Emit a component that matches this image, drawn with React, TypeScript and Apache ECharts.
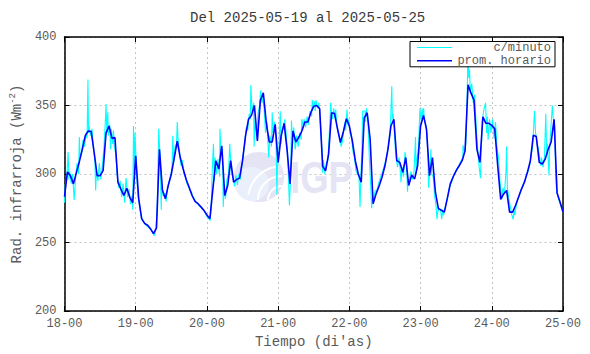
import React, { useEffect, useRef } from 'react';
import * as echarts from 'echarts';

const FONT = '"Liberation Mono", "DejaVu Sans Mono", monospace';
const TEXT_COLOR = '#5a5a5a';

const titleText = 'Del 2025-05-19 al 2025-05-25';
const xTickLabels = ['18-00', '19-00', '20-00', '21-00', '22-00', '23-00', '24-00', '25-00'];
const seriesNames = ['c/minuto', 'prom. horario'];

// Hourly mean, index = hours since 18-00
const hourlyValues = [
  283.5, 301.5, 298.8, 292.8, 301, 309, 318, 328, 331.4, 331, 315.7, 298.8,
  298.8, 302.4, 330, 335, 326, 326.6, 294, 289, 284.3, 289.6, 283, 279,
  313.3, 282, 267.4, 264, 262.6, 260, 256.5, 260.6, 318, 288.4, 282, 292,
  300, 312, 324, 312, 303.6, 296, 290.3, 284.3, 280, 278.3, 276, 273.4,
  270, 267.4, 289, 309.7, 303.6, 320.5, 284.3, 291.6, 309.7, 294, 296, 297,
  309.7, 327.8, 339.9, 342.8, 350, 324.2, 353.6, 359.2, 337.4, 323.4, 323.4, 336.2,
  308.5, 327.8, 337, 318, 292.8, 331.4, 323.4, 327, 331.4, 338, 338, 344.7,
  349.5, 350, 347.6, 305.6, 302.4, 314.5, 344.7, 344.2, 333, 323, 331, 340.3,
  335, 324.2, 309.7, 300, 294, 341, 344.7, 325.4, 278.3, 285.5, 291, 297.6,
  306, 318, 335, 340, 309.7, 308.5, 301.2, 312, 291.6, 299.3, 296.4, 306,
  335, 342.8, 332.6, 298.8, 312, 286.7, 274.7, 273.5, 272.2, 282, 292.8, 298,
  302.4, 306, 309.7, 316.9, 365.2, 359, 353.9, 318, 308.5, 341.8, 337, 337,
  335.5, 333, 306, 281.4, 285.5, 288, 272.2, 272.2, 277, 283.1, 289, 294,
  301.2, 309.7, 328.3, 327.3, 308.5, 307.3, 310.9, 318, 323.4, 339.9, 286.2, 279.5,
  272.2,
];

// Minute samples (hours since 18-00, value)
const minuteSamples: [number, number][] = [
  [0, 279], [0.25, 292], [0.75, 296], [1.2, 316], [1.5, 296], [1.75, 302], [2.25, 293], [2.75, 300],
  [3.25, 281], [3.75, 298], [4.25, 308], [4.75, 300], [5, 327], [5.25, 312], [5.75, 316], [6.25, 325],
  [6.75, 320], [7.25, 330], [7.6, 326], [7.9, 369], [8.1, 330], [8.25, 335], [8.75, 328], [9.25, 333],
  [9.75, 318], [10.25, 310], [10.5, 288], [10.75, 302], [11.25, 295], [11.75, 308], [12.25, 296], [12.75, 306],
  [13.25, 318], [13.75, 338], [14, 351], [14.25, 330], [14.6, 345], [14.75, 328], [15.25, 336], [15.5, 318],
  [15.75, 333], [16.25, 322], [16.5, 332], [16.75, 320], [17.25, 315], [17.75, 300], [18.25, 290], [18.75, 295],
  [19.25, 283], [19.75, 293], [20.25, 279], [20.75, 297], [21.25, 283], [21.75, 289], [22.25, 278], [22.75, 284],
  [23, 274], [23.25, 335], [23.5, 300], [23.75, 330], [24.25, 302], [24.75, 285],
  [25.25, 278], [25.75, 270], [26.25, 266], [26.75, 265], [27.25, 263], [27.75, 262], [28.25, 261], [28.75, 260],
  [29.25, 259], [29.75, 257], [30.25, 255], [30.75, 259], [31.25, 275], [31.75, 333], [32.25, 310], [32.6, 274],
  [32.75, 290], [33.25, 284], [33.75, 286], [34.25, 280], [34.75, 290], [35.25, 294], [35.75, 298], [36.25, 305],
  [36.5, 328], [36.75, 308], [37.25, 320], [37.75, 322], [38, 338], [38.25, 326], [38.75, 316], [39.25, 306],
  [39.75, 310], [40.25, 300], [40.75, 298], [41.25, 293], [41.75, 291], [42.25, 288], [42.75, 287], [43.25, 283],
  [43.75, 282], [44.25, 279], [44.75, 279], [45.25, 277], [45.75, 276], [46.25, 275], [46.75, 274], [47.25, 272],
  [47.75, 270],
  [48.25, 268], [48.75, 267], [49.1, 266], [49.5, 280], [49.75, 300], [50.2, 322], [50.5, 295], [50.75, 312],
  [51.25, 300], [51.75, 311], [52.25, 298], [52.4, 333], [52.75, 315], [53.25, 318], [53.5, 276], [53.75, 290],
  [54.25, 282], [54.75, 296], [55.25, 300], [55.7, 322], [56.25, 300], [56.75, 298], [57.3, 291], [57.75, 299],
  [58.25, 292], [58.75, 300], [59.25, 296], [59.75, 306], [60.25, 315], [60.75, 322], [61.25, 334], [61.75, 332],
  [62.25, 344], [62.6, 340], [62.8, 365], [63.25, 345], [63.75, 352], [63.9, 320], [64.25, 340], [64.75, 328],
  [65.25, 345], [65.75, 350], [66.1, 361], [66.5, 352], [66.75, 356], [67.25, 348], [67.75, 330], [68.25, 338],
  [68.8, 312], [69.25, 328], [69.75, 320], [70, 345], [70.25, 330], [70.75, 338], [71.25, 328], [71.6, 285],
  [71.75, 305],
  [72.25, 315], [72.7, 346], [73, 322], [73.25, 332], [73.75, 334], [74.25, 340], [74.75, 328], [75.25, 310],
  [75.8, 277], [76.25, 300], [76.5, 339], [76.75, 325], [77.25, 334], [77.75, 318], [78.25, 328], [78.75, 320],
  [79.25, 330], [79.75, 325], [80, 340], [80.5, 334], [80.75, 340], [81.25, 334], [81.75, 342], [82.25, 336],
  [82.75, 346], [83.25, 342], [83.5, 354], [83.75, 348], [84.25, 353], [84.5, 346], [84.75, 354], [85.25, 348],
  [85.75, 352], [86.25, 336], [86.75, 318], [87, 301], [87.25, 310], [87.75, 300], [88.25, 308], [88.75, 310],
  [89.25, 330], [89.7, 352], [90.25, 340], [90.75, 348], [91.25, 340], [91.4, 347], [91.75, 336], [92.25, 330],
  [92.75, 326], [93.25, 320], [93.6, 323], [94, 330], [94.5, 338], [94.75, 332], [95.2, 347], [95.5, 336],
  [95.75, 340], [96.25, 330], [96.75, 326], [97.25, 316], [97.75, 312], [98.25, 302], [98.75, 300], [99.25, 298],
  [99.6, 276], [99.9, 300], [100.25, 320], [100.5, 346], [101.3, 346], [101.5, 338], [101.75, 348], [102.25, 340],
  [102.75, 310], [103.25, 290], [103.5, 275], [103.75, 282], [104.25, 283], [104.75, 288], [105.25, 288], [105.75, 292],
  [106.25, 296], [106.75, 299], [107.25, 302], [107.75, 306], [108.25, 310], [108.75, 315], [109.25, 322], [109.75, 330],
  [110.3, 364], [110.5, 340], [110.75, 344], [111.2, 330], [111.5, 318], [111.75, 312], [112.25, 305], [112.75, 312],
  [113.25, 300], [113.4, 294], [113.75, 305], [114.25, 298], [114.75, 316], [115.25, 308], [115.6, 287], [115.75, 295],
  [116.25, 296], [116.75, 302], [117.25, 296], [117.75, 300], [118.3, 327], [118.5, 300], [118.75, 310], [119.25, 318],
  [119.8, 348], [120.25, 338], [120.5, 348], [120.75, 340], [121, 348], [121.25, 340], [121.75, 336], [122.2, 328],
  [122.5, 310], [122.7, 290], [123, 300], [123.25, 306], [123.5, 318], [123.75, 300], [124.25, 298], [124.75, 284],
  [125.25, 276], [125.5, 267], [125.75, 272], [126.25, 275], [126.75, 274], [127.1, 267], [127.5, 274], [127.75, 270],
  [128.25, 275], [128.75, 280], [129.25, 285], [129.75, 290], [130.25, 293], [130.75, 296], [131.25, 300], [131.75, 301],
  [132.25, 304], [132.75, 305], [133.25, 308], [133.75, 310], [134.25, 312], [134.3, 321], [134.75, 316], [135.25, 322],
  [135.5, 340], [135.75, 362], [136, 395], [136.25, 370], [136.5, 376], [136.75, 360], [137.25, 366], [137.75, 352],
  [138.25, 358], [138.5, 345], [138.75, 335], [139.25, 318], [139.75, 305], [140.2, 297], [140.5, 320], [140.75, 338],
  [141.25, 346], [141.9, 352], [142.25, 330], [142.5, 342], [142.75, 325], [143.25, 340], [143.75, 330], [144.25, 340],
  [144.75, 326], [145.25, 338], [145.75, 320], [146.3, 311], [146.75, 295], [147.4, 282], [147.75, 290], [148.25, 286],
  [148.75, 300], [149, 320], [149.25, 290], [149.75, 282], [150.25, 276], [150.75, 270], [151.2, 267], [151.5, 274],
  [151.75, 270], [152.25, 277], [152.75, 282], [153.25, 284], [153.75, 288], [154.25, 290], [154.75, 294], [155.25, 296],
  [155.75, 300], [156.25, 302], [156.75, 306], [157.25, 314], [157.75, 320], [158.4, 346], [158.75, 330], [159.25, 322],
  [159.75, 318], [160.25, 310], [160.6, 306], [160.75, 312], [161.25, 305], [161.75, 312], [162.2, 344], [162.5, 316],
  [162.75, 322], [163.3, 299], [163.5, 318], [163.75, 328], [164.4, 350], [164.75, 340], [165.25, 335], [165.5, 300],
  [165.75, 290], [166.25, 284], [166.75, 280], [167.25, 277], [167.75, 274], [168, 272],
];

export default function App() {
  const ref = useRef<HTMLDivElement>(null);

  useEffect(() => {
    if (!ref.current) return;
    const chart = echarts.init(ref.current, null, { renderer: 'svg' });
    const hourly = hourlyValues.map((v, i) => [i, v]);

    const axisLine = { show: true, onZero: false, lineStyle: { color: '#000', width: 1.5 } };
    const axisTick = { show: true, inside: true, length: 5, lineStyle: { color: '#000', width: 1 } };
    const splitLine = { show: true, lineStyle: { color: '#b4b4b4', width: 0.8, type: [2, 3] } };
    const labelStyle = { fontFamily: FONT, fontSize: 12, color: TEXT_COLOR };

    chart.setOption({
      animation: false,
      backgroundColor: '#fff',
      title: {
        text: titleText,
        left: 190,
        top: 11,
        padding: 0,
        textStyle: { fontFamily: FONT, fontSize: 14, fontWeight: 'normal', color: '#3a3a3a' },
      },
      legend: {
        orient: 'vertical',
        left: 410,
        top: 41.5,
        padding: [0, 4, 0, 7],
        itemGap: 1.3,
        itemWidth: 35,
        itemHeight: 12,
        symbolKeepAspect: true,
        backgroundColor: '#fff',
        borderColor: '#000',
        borderWidth: 1,
        data: [
          { name: seriesNames[0], icon: 'path://M0,0L35,0L35,1L0,1Z' },
          { name: seriesNames[1], icon: 'path://M0,0L35,0L35,1.6L0,1.6Z' },
        ],
        formatter: (name: string) => `{r|${name}}`,
        textStyle: {
          fontFamily: FONT,
          fontSize: 12,
          color: TEXT_COLOR,
          lineHeight: 12,
          rich: { r: { width: 94, align: 'right', fontFamily: FONT, fontSize: 12, color: TEXT_COLOR, lineHeight: 12 } },
        },
      },
      grid: { left: 53.5, right: 27, top: 37, bottom: 40, containLabel: false },
      xAxis: [
        {
          type: 'value',
          min: 0,
          max: 168,
          interval: 24,
          position: 'bottom',
          axisLine,
          axisTick,
          splitLine,
          axisLabel: {
            ...labelStyle,
            margin: 7,
            formatter: (v: number) => xTickLabels[Math.round(v / 24)] ?? '',
          },
          name: "Tiempo (di'as)",
          nameLocation: 'middle',
          nameGap: 24,
          nameTextStyle: { fontFamily: FONT, fontSize: 14, color: TEXT_COLOR },
        },
        {
          type: 'value',
          min: 0,
          max: 168,
          interval: 24,
          position: 'top',
          axisLine,
          axisTick,
          splitLine: { show: false },
          axisLabel: { show: false },
        },
      ],
      yAxis: [
        {
          type: 'value',
          min: 200,
          max: 400,
          interval: 50,
          position: 'left',
          axisLine,
          axisTick,
          splitLine,
          axisLabel: { ...labelStyle, margin: 8 },
          name: '{a|Rad. infrarroja (Wm}{s|-2}{a|)}',
          nameLocation: 'middle',
          nameGap: 30,
          nameTextStyle: {
            fontFamily: FONT,
            fontSize: 14,
            color: TEXT_COLOR,
            rich: {
              a: { fontFamily: FONT, fontSize: 14, color: TEXT_COLOR, lineHeight: 16, verticalAlign: 'bottom' },
              s: { fontFamily: FONT, fontSize: 9, color: TEXT_COLOR, lineHeight: 8, verticalAlign: 'top' },
            },
          },
        },
        {
          type: 'value',
          min: 200,
          max: 400,
          interval: 50,
          position: 'right',
          axisLine,
          axisTick,
          splitLine: { show: false },
          axisLabel: { show: false },
        },
      ],
      graphic: [
        { type: 'circle', z: 1, silent: true, shape: { cx: 259, cy: 177, r: 25 }, style: { fill: '#e4e4f5' } },
        { type: 'circle', z: 1, silent: true, shape: { cx: 252, cy: 184, r: 17 }, style: { fill: '#eaf0fb' } },
        { type: 'arc', z: 1, silent: true, shape: { cx: 282, cy: 200, r: 14, startAngle: Math.PI, endAngle: 1.5 * Math.PI }, style: { stroke: '#fff', lineWidth: 2, fill: 'none' } },
        { type: 'arc', z: 1, silent: true, shape: { cx: 282, cy: 200, r: 24, startAngle: Math.PI, endAngle: 1.5 * Math.PI }, style: { stroke: '#fff', lineWidth: 2, fill: 'none' } },
        { type: 'arc', z: 1, silent: true, shape: { cx: 282, cy: 200, r: 34, startAngle: 1.05 * Math.PI, endAngle: 1.45 * Math.PI }, style: { stroke: '#fff', lineWidth: 2, fill: 'none' } },
        {
          type: 'text', z: 1, silent: true, x: 290, y: 178, scaleX: 0.83,
          style: { text: 'IGP', fontSize: 44, fontWeight: 'bold', fontFamily: '"Liberation Sans", Arial, sans-serif', fill: '#e4e4f5', textVerticalAlign: 'middle' },
        },
      ],
      series: [
        {
          name: seriesNames[0],
          type: 'line',
          xAxisIndex: 0,
          yAxisIndex: 0,
          data: minuteSamples,
          showSymbol: false,
          symbol: 'none',
          lineStyle: { color: '#00ffff', width: 1.1 },
          itemStyle: { color: '#00ffff' },
          z: 3,
        },
        {
          name: seriesNames[1],
          type: 'line',
          xAxisIndex: 0,
          yAxisIndex: 0,
          data: hourly,
          showSymbol: false,
          symbol: 'none',
          lineStyle: { color: '#0000ff', width: 1.6 },
          itemStyle: { color: '#0000ff' },
          z: 4,
        },
      ],
    });

    return () => chart.dispose();
  }, []);

  return <div ref={ref} style={{ position: 'fixed', left: 0, top: 0, width: 590, height: 354 }} />;
}
